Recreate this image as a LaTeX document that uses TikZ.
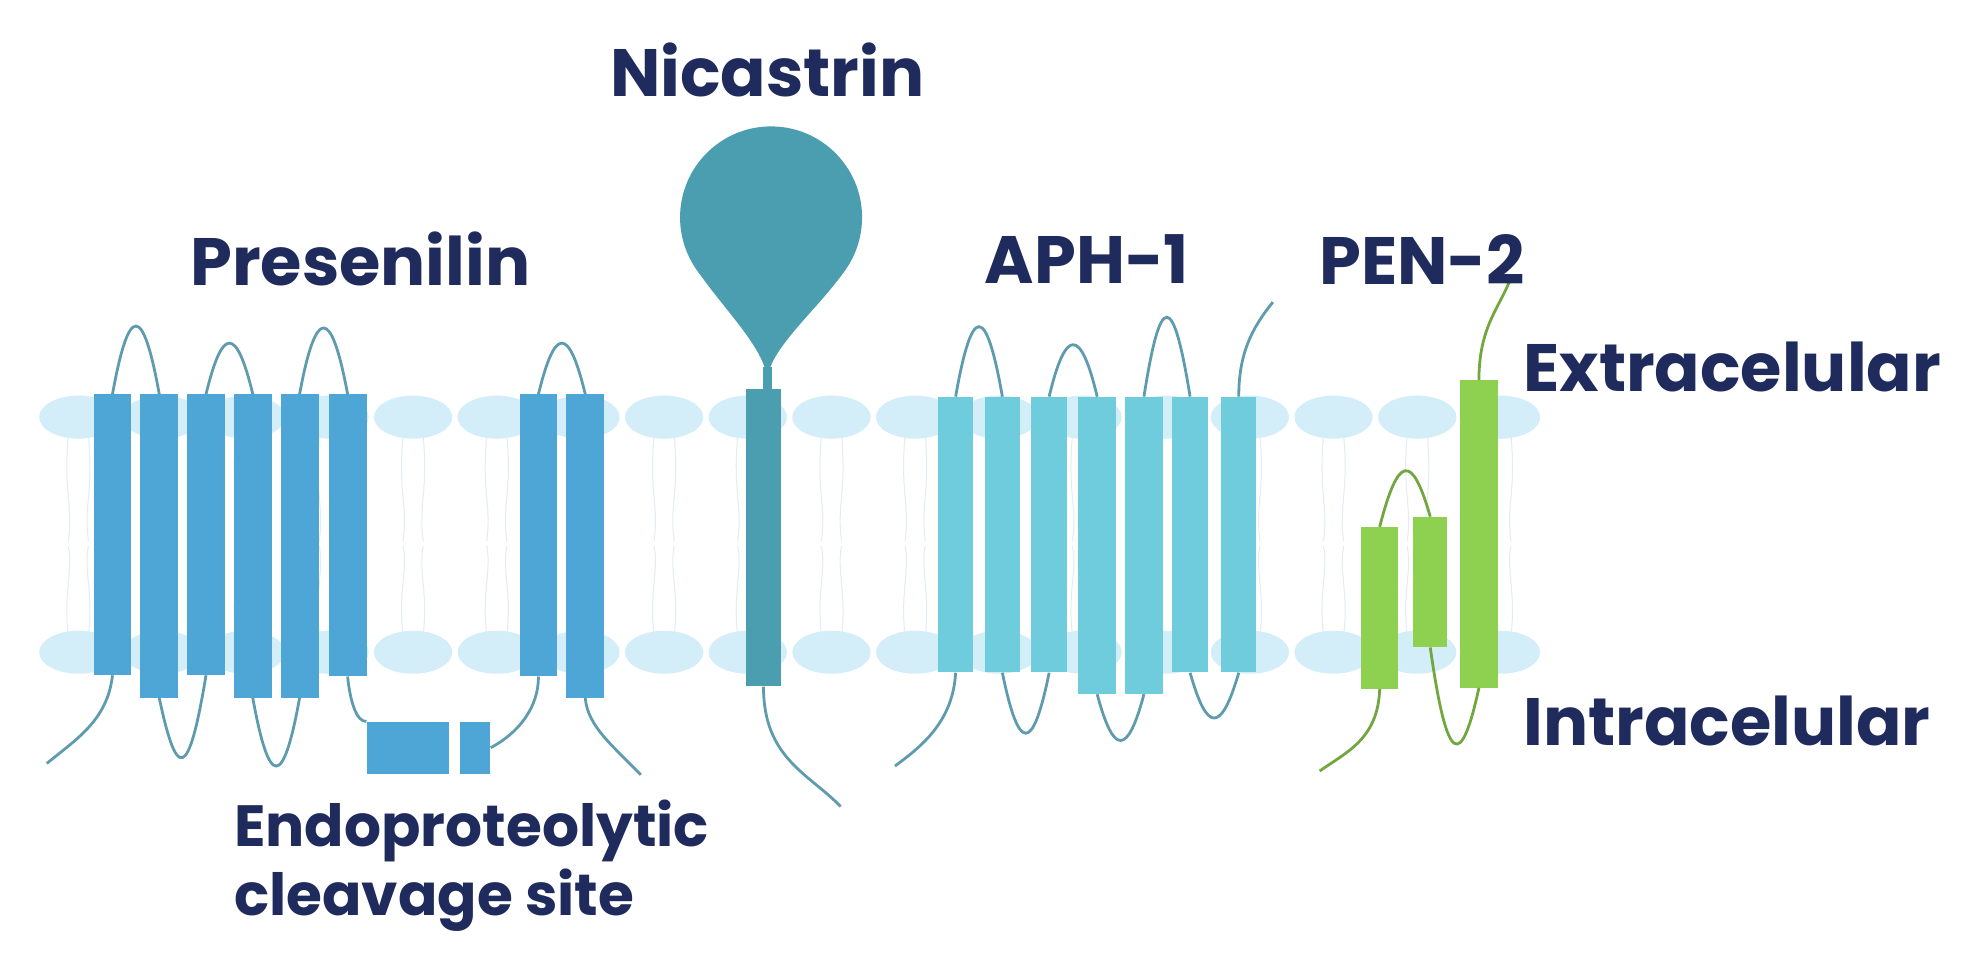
\documentclass[tikz,border=0pt]{standalone}
\usepackage{fontspec}
\setmainfont{Poppins}
\begin{document}
\begin{tikzpicture}[x=1pt,y=-1pt,
  lbl/.style={font=\bfseries\fontsize{53}{60}\selectfont, text=navy, inner sep=0},
  hx/.style={draw=none, inner sep=0, rectangle},
  ps/.style={hx, fill=psc},
  ni/.style={hx, fill=nic},
  ap/.style={hx, fill=apc},
  pe/.style={hx, fill=pec},
  lp/.style={draw=loopc, line width=2.2pt},
  lpg/.style={draw=pec!80!black, line width=2.2pt},
  head/.style={fill=headc},
  tail/.style={draw=tailc, line width=0.8pt}]
\definecolor{navy}{HTML}{1F2B5C}
\definecolor{psc}{HTML}{4DA6D6}
\definecolor{nic}{HTML}{4A9EAF}
\definecolor{apc}{HTML}{6ECCDD}
\definecolor{pec}{HTML}{8ED04F}
\definecolor{loopc}{HTML}{5E9BAF}
\definecolor{headc}{HTML}{D3EDF9}
\definecolor{tailc}{HTML}{E2ECF1}
\useasboundingbox (0,0) rectangle (1568,771);
\fill[white] (0,0) rectangle (1568,771);
% membrane
\foreach \i in {0,...,17}{
  \pgfmathsetmacro\cx{62+66.2*\i}
  \draw[tail] (\cx-8,345) .. controls (\cx-12,390) and (\cx-4,400) .. (\cx-8,428);
  \draw[tail] (\cx+8,345) .. controls (\cx+12,390) and (\cx+4,400) .. (\cx+8,428);
  \draw[tail] (\cx-8,502) .. controls (\cx-12,470) and (\cx-4,450) .. (\cx-8,432);
  \draw[tail] (\cx+8,502) .. controls (\cx+12,470) and (\cx+4,450) .. (\cx+8,432);
  \fill[head] (\cx,330) ellipse[x radius=31, y radius=17];
  \fill[head] (\cx,516) ellipse[x radius=31, y radius=17];
}
% Presenilin helices
\node[ps, minimum width=30, minimum height=222] (h1) at (89,423) {};
\node[ps, minimum width=30, minimum height=240] (h2) at (126,432) {};
\node[ps, minimum width=30, minimum height=222] (h3) at (163,423) {};
\node[ps, minimum width=30, minimum height=240] (h4) at (200,432) {};
\node[ps, minimum width=30, minimum height=240] (h5) at (237,432) {};
\node[ps, minimum width=30, minimum height=223] (h6) at (275,423.5) {};
\node[ps, minimum width=30, minimum height=223] (h7) at (426,423.5) {};
\node[ps, minimum width=30, minimum height=240] (h8) at (463,432) {};
\node[ps, minimum width=65, minimum height=41] (b1) at (322.5,591.5) {};
\node[ps, minimum width=24, minimum height=41] (b2) at (376,591.5) {};
\coordinate (pn) at (37,604);
\coordinate (pc) at (507,613);
\draw[lp] (h1.north) .. controls (102,240) and (113,240) .. (h2.north);
\draw[lp] (h3.north) .. controls (176,258) and (187,258) .. (h4.north);
\draw[lp] (h5.north) .. controls (250,242) and (262,242) .. (h6.north);
\draw[lp] (h7.north) .. controls (439,258) and (450,258) .. (h8.north);
\draw[lp] (h2.south) .. controls (140,618) and (149,618) .. (h3.south);
\draw[lp] (h4.south) .. controls (213,624) and (224,624) .. (h5.south);
\draw[lp] (h1.south) .. controls (85,570) and (60,585) .. (pn);
\draw[lp] (h6.south) .. controls (277,555) and (282,571) .. (b1.north west);
\draw[lp] (b2.east) .. controls (410,580) and (426,560) .. (h7.south);
\draw[lp] (h8.south) .. controls (465,575) and (485,590) .. (pc);
% Nicastrin
\fill[nic] (610,172) circle[radius=72pt];
\fill[nic] (607,300) .. controls (605,275) and (571,243) .. (551,213) -- (669,213) .. controls (649,243) and (609,275) .. (607,300) -- cycle;
\fill[nic] (604,290) rectangle (611,310);
\node[ni, minimum width=28, minimum height=235] (n1) at (604,425.5) {};
\coordinate (nc) at (665,638);
\draw[lp] (n1.south) .. controls (604,600) and (640,612) .. (nc);
% APH-1
\node[ap, minimum width=28, minimum height=218] (a1) at (756,423) {};
\node[ap, minimum width=28, minimum height=218] (a2) at (793,423) {};
\node[ap, minimum width=28, minimum height=218] (a3) at (830,423) {};
\node[ap, minimum width=30, minimum height=235] (a4) at (868,431.5) {};
\node[ap, minimum width=30, minimum height=235] (a5) at (905,431.5) {};
\node[ap, minimum width=29, minimum height=218] (a6) at (941.5,423) {};
\node[ap, minimum width=28, minimum height=218] (a7) at (980,423) {};
\coordinate (an) at (708,606);
\coordinate (ac) at (1007,239);
\draw[lp] (a1.north) .. controls (769,240) and (780,240) .. (a2.north);
\draw[lp] (a3.north) .. controls (843,259) and (855,259) .. (a4.north);
\draw[lp] (a5.north) .. controls (918,230) and (928,230) .. (a6.north);
\draw[lp] (a2.south) .. controls (806,596) and (817,596) .. (a3.south);
\draw[lp] (a4.south) .. controls (881,598) and (892,598) .. (a5.south);
\draw[lp] (a6.south) .. controls (955,580) and (966,580) .. (a7.south);
\draw[lp] (a1.south) .. controls (754,570) and (730,590) .. (an);
\draw[lp] (a7.north) .. controls (980,280) and (990,260) .. (ac);
% PEN-2
\node[pe, minimum width=29, minimum height=128] (p1) at (1091.5,481) {};
\node[pe, minimum width=27, minimum height=103] (p2) at (1131.5,460.5) {};
\node[pe, minimum width=30, minimum height=243] (p3) at (1170,422.5) {};
\coordinate (qn) at (1044,610);
\coordinate (qc) at (1194,223);
\draw[lpg] (p1.north) .. controls (1106,360) and (1117,358) .. (p2.north);
\draw[lpg] (p2.south) .. controls (1145,608) and (1156,608) .. (p3.south);
\draw[lpg] (p1.south) .. controls (1090,585) and (1065,595) .. (qn);
\draw[lpg] (p3.north) .. controls (1170,260) and (1185,245) .. (qc);
% labels
\node[lbl] (tn) at (607,55) {Nicastrin};
\node[lbl] (tp) at (285,205) {Presenilin};
\node[lbl] (ta) at (860,205) {APH-1};
\node[lbl] (tq) at (1125,205) {PEN-2};
\node[lbl, anchor=west] (te) at (1205,290) {Extracelular};
\node[lbl, anchor=west] (ti) at (1205,570) {Intracelular};
\node[lbl, anchor=west, font=\bfseries\fontsize{46}{52}\selectfont] (tc1) at (185,657) {Endoproteolytic};
\node[lbl, anchor=west, font=\bfseries\fontsize{46}{52}\selectfont] (tc2) at (185,712) {cleavage site};
\end{tikzpicture}
\end{document}
